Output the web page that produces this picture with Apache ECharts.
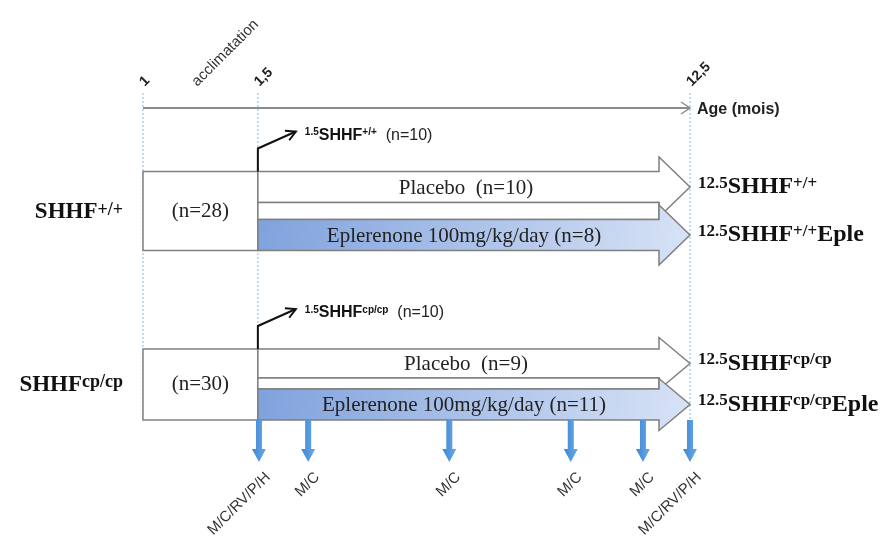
<!DOCTYPE html>
<html>
<head>
<meta charset="utf-8">
<title>Protocole SHHF</title>
<script src="https://cdn.jsdelivr.net/npm/echarts@6/dist/echarts.min.js"></script>
<style>
  html, body { margin: 0; padding: 0; background: #fff; }
  #main { width: 890px; height: 547px; }
</style>
</head>
<body>
<div id="main"></div>
<script>
  // age axis, schematic position (0 = 1 mois, 100 = 12,5 mois)
  var tickLabels = ['1', '1,5', '12,5'];
  var tickPos = [0, 21, 100];
  var acclimLabel = 'acclimatation';
  var axisName = 'Age (mois)';

  // groups
  var groupName = 'SHHF';
  var genotypes = ['+/+', 'cp/cp'];
  var groupRows = [3, 8];
  var acclimN = [28, 30];
  var baselineN = [10, 10];
  var placeboN = [10, 9];
  var epleN = [8, 11];
  var epleDose = '100mg/kg/day';

  // measurements
  var measurePos = [21.2, 30.2, 56, 78.2, 91.4, 100];
  var measureLabels = ['M/C/RV/P/H', 'M/C', 'M/C', 'M/C', 'M/C', 'M/C/RV/P/H'];
  var measureRow = 9;

  // row geometry in px around each group row (box / placebo / strip / eplerenone)
  var rowBox = [
    {top: -40, pBot: -9, eTop: 8, bot: 39, head: 30},
    {top: -35, pBot: -6, eTop: 5, bot: 36, head: 26}
  ];

  var grey = '#808080';
  var serif = '"Liberation Serif", "Times New Roman", serif';
  var sans = '"Liberation Sans", Arial, sans-serif';

  function text(x, y, str, style, rot) {
    return {
      type: 'text', x: x, y: y, rotation: rot || 0,
      style: Object.assign({text: str, x: 0, y: 0, fill: '#222'}, style)
    };
  }

  function guideItem (params, api) {
    var top = api.coord([api.value(0), 0]);
    var bot = api.coord([api.value(0), measureRow]);
    return {
      type: 'line',
      shape: {x1: top[0], y1: top[1] - 15, x2: bot[0], y2: bot[1] + 2},
      style: {stroke: '#9dc3e6', lineWidth: 1.2, lineDash: [2, 2]}
    };
  }

  function timelineItem (params, api) {
    var a = api.coord([tickPos[0], 0]);
    var b = api.coord([tickPos[tickPos.length - 1], 0]);
    var kids = [
      {type: 'line', shape: {x1: a[0], y1: a[1], x2: b[0], y2: b[1]}, style: {stroke: '#8c8c8c', lineWidth: 2}},
      {type: 'polyline', shape: {points: [[b[0] - 9, b[1] - 6], [b[0], b[1]], [b[0] - 9, b[1] + 6]]}, style: {stroke: '#8c8c8c', lineWidth: 1.5, fill: null}},
      text(b[0] + 7, b[1] + 2, axisName, {font: 'bold 16px ' + sans, align: 'left', verticalAlign: 'middle'})
    ];
    tickPos.forEach(function (v, i) {
      var p = api.coord([v, 0]);
      kids.push(text(p[0] - 1, p[1] - 24, tickLabels[i], {font: 'bold 14px ' + sans, align: 'left', verticalAlign: 'middle'}, Math.PI / 4));
    });
    var m = api.coord([(tickPos[0] + tickPos[1]) / 2, 0]);
    kids.push(text(m[0] - 6, m[1] - 24, acclimLabel, {font: '15px ' + sans, fill: '#333', align: 'left', verticalAlign: 'middle'}, Math.PI / 4));
    return {type: 'group', children: kids};
  }

  function supRich (base, sup) {
    return {
      b: {font: base, verticalAlign: 'bottom', fill: '#111'},
      s: {font: sup, verticalAlign: 'top', fill: '#111'}
    };
  }

  function groupItem (params, api) {
    var i = api.value(0);
    var row = api.value(1);
    var L = rowBox[i];
    var a = api.coord([tickPos[0], row]);
    var b = api.coord([tickPos[1], row]);
    var c = api.coord([tickPos[2], row]);
    var cy = a[1];
    var x0 = a[0], x1 = b[0], x2 = c[0], xh = x2 - 31;
    var pMid = cy + (L.top + L.pBot) / 2;
    var eMid = cy + (L.eTop + L.bot) / 2;
    var g = genotypes[i];

    function arrow (t, bt, mid, fill) {
      return {
        type: 'polygon',
        shape: {points: [[x1, t], [xh, t], [xh, mid - L.head], [x2, mid], [xh, mid + L.head], [xh, bt], [x1, bt]]},
        style: {fill: fill, stroke: '#7f7f7f', lineWidth: 1.5}
      };
    }

    var blue = new echarts.graphic.LinearGradient(0, 0, 1, 1, [
      {offset: 0, color: '#7fa1dc'},
      {offset: 1, color: '#d8e3f6'}
    ]);

    // bent arrow to the 1.5-month sacrifice group
    var by = cy + L.top;
    var tip = [x1 + 38, by - 40];
    var ang = Math.atan2(tip[1] - (by - 23), tip[0] - x1);
    var h1 = [tip[0] - 11 * Math.cos(ang - 0.5), tip[1] - 11 * Math.sin(ang - 0.5)];
    var h2 = [tip[0] - 11 * Math.cos(ang + 0.5), tip[1] - 11 * Math.sin(ang + 0.5)];

    var bigRich = supRich('bold 24px ' + serif, 'bold 17px ' + serif);

    return {
      type: 'group',
      children: [
        {type: 'rect', shape: {x: x0, y: cy + L.top, width: x1 - x0, height: L.bot - L.top}, style: {fill: '#fff', stroke: grey, lineWidth: 1.5}},
        text((x0 + x1) / 2, cy, '(n=' + acclimN[i] + ')', {font: '21px ' + serif, align: 'center', verticalAlign: 'middle'}),
        arrow(cy + L.top, cy + L.pBot, pMid, '#fff'),
        {type: 'rect', shape: {x: x1, y: cy + L.pBot, width: xh - x1, height: L.eTop - L.pBot}, style: {fill: '#fff', stroke: '#7f7f7f', lineWidth: 1.5}},
        arrow(cy + L.eTop, cy + L.bot, eMid, blue),
        text(466, pMid + 1, 'Placebo  (n=' + placeboN[i] + ')', {font: '21px ' + serif, align: 'center', verticalAlign: 'middle'}),
        text(464, eMid + 1, 'Eplerenone ' + epleDose + ' (n=' + epleN[i] + ')', {font: '21px ' + serif, align: 'center', verticalAlign: 'middle'}),
        {type: 'polyline', shape: {points: [[x1, by], [x1, by - 23], tip]}, style: {stroke: '#111', lineWidth: 2, fill: null}},
        {type: 'polyline', shape: {points: [h1, tip, h2]}, style: {stroke: '#111', lineWidth: 2, fill: null}},
        text(x1 + 47, by - 36, '{s|1.5}{b|' + groupName + '}{s|' + g + '}{n|  (n=' + baselineN[i] + ')}', {
          align: 'left', verticalAlign: 'middle',
          rich: {
            s: {font: 'bold 10px ' + sans, verticalAlign: 'top', fill: '#111'},
            b: {font: 'bold 16px ' + sans, verticalAlign: 'bottom', fill: '#111'},
            n: {font: '16px ' + sans, verticalAlign: 'bottom', fill: '#222'}
          }
        }),
        text(x0 - 20, cy + 1, '{b|' + groupName + '}{s|' + g + '}', {
          align: 'right', verticalAlign: 'middle',
          rich: supRich('bold 23px ' + serif, 'bold 18px ' + serif)
        }),
        text(x2 + 8, pMid, '{s|12.5}{b|' + groupName + '}{s|' + g + '}', {align: 'left', verticalAlign: 'middle', rich: bigRich}),
        text(x2 + 8, eMid, '{s|12.5}{b|' + groupName + '}{s|' + g + '}{b|Eple}', {align: 'left', verticalAlign: 'middle', rich: bigRich})
      ]
    };
  }

  function measureItem (params, api) {
    var p = api.coord([api.value(0), measureRow]);
    var x = p[0], y = p[1] + 1.5;
    return {
      type: 'group',
      children: [
        {
          type: 'polygon',
          shape: {points: [[x - 3, y], [x + 3, y], [x + 3, y + 29], [x + 7, y + 29], [x, y + 42], [x - 7, y + 29], [x - 3, y + 29]]},
          style: {fill: new echarts.graphic.LinearGradient(0, 0, 1, 0, [{offset: 0, color: '#3d86d3'}, {offset: 1, color: '#6aa9e8'}])}
        },
        text(x + 9, y + 55, measureLabels[params.dataIndex], {font: '15px ' + sans, fill: '#333', align: 'right', verticalAlign: 'middle'}, Math.PI / 4)
      ]
    };
  }

  var chart = echarts.init(document.getElementById('main'));
  chart.setOption({
    animation: false,
    grid: {left: 143, right: 200, top: 108, bottom: 94},
    xAxis: {type: 'value', min: 0, max: 100, show: false},
    yAxis: {type: 'value', min: 0, max: 10, inverse: true, show: false},
    series: [
      {type: 'custom', renderItem: guideItem, data: tickPos.map(function (v) { return [v]; })},
      {type: 'custom', renderItem: timelineItem, data: [[0]]},
      {type: 'custom', renderItem: groupItem, data: groupRows.map(function (r, i) { return [i, r]; })},
      {type: 'custom', renderItem: measureItem, data: measurePos.map(function (v) { return [v]; })}
    ]
  });
</script>
</body>
</html>
